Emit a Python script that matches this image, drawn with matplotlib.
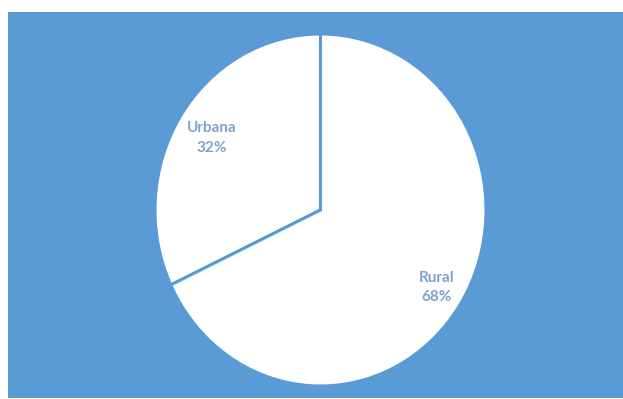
import matplotlib
matplotlib.use("Agg")
import matplotlib.pyplot as plt

categories = ["Urbana", "Rural"]
values = [32, 68]
pct_labels = ["32%", "68%"]

W, H = 623, 399
fig = plt.figure(figsize=(W / 100, H / 100), dpi=100, facecolor="white")
blue = "#5B9BD5"

bg = fig.add_axes([8 / W, 1 / H, 615 / W, 386 / H], zorder=0)
bg.set_facecolor(blue)
bg.set_xticks([])
bg.set_yticks([])
for s in bg.spines.values():
    s.set_visible(False)

ax = fig.add_axes([155 / W, 13 / H, 331 / W, 352 / H], zorder=1)
ax.set_axis_off()
labels = [f"{c}\n{p}" for c, p in zip(categories, pct_labels)]
wedges, texts = ax.pie(values, labels=labels, startangle=90, counterclock=True,
                       colors=["white", "white"], labeldistance=0.8,
                       wedgeprops=dict(edgecolor=blue, linewidth=2.2))
label_pos = [(-0.655, 0.41), (0.70, -0.44)]
for t, pos in zip(texts, label_pos):
    t.set_position(pos)
    t.set_ha("center")
    t.set_va("center")
    t.set_fontfamily("Lato")
    t.set_fontweight("bold")
    t.set_fontsize(11)
    t.set_color("#7BA3CB")
    t.set_linespacing(1.5)
ax.set_xlim(-1, 1)
ax.set_ylim(-1, 1)
ax.set_aspect("auto")

fig.savefig("out.png", dpi=100, facecolor="white")
